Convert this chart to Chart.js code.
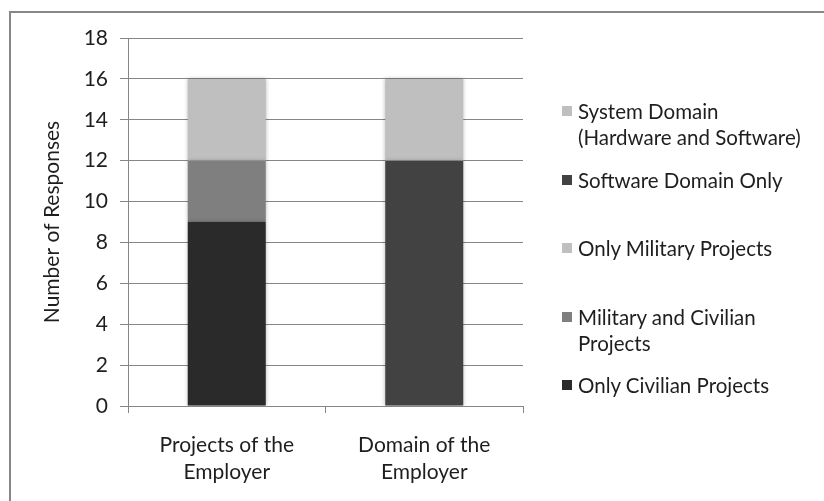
<!DOCTYPE html>
<html>
<head>
<meta charset="utf-8">
<script src="https://cdn.jsdelivr.net/npm/chart.js@4.4.1/dist/chart.umd.min.js"></script>
<style>
  html, body { margin: 0; padding: 0; background: #fff; overflow: hidden; }
  #wrap { position: relative; width: 824px; height: 501px; overflow: hidden; }
  #frame { position: absolute; left: 9px; top: 11px; width: 900px; height: 600px;
           border: 2px solid #878787; box-sizing: border-box; }
  #c { position: absolute; left: 0; top: 0; }
  #legend { position: absolute; left: 562px; top: 98px; font-family: Lato, sans-serif;
            font-size: 20.5px; color: #1e1e1e; }
  .item { height: 68.5px; display: flex; align-items: flex-start; }
  .sw { width: 10px; height: 10px; margin-top: 8px; margin-right: 6px; flex: none; }
  .lbl { line-height: 26px; white-space: nowrap; }
</style>
</head>
<body>
<div id="wrap">
  <div id="frame"></div>
  <canvas id="c" width="824" height="501"></canvas>
  <div id="legend"></div>
</div>
<script>
// Categories and stacked series (number of responses)
const categories = [["Projects of the", "Employer"], ["Domain of the", "Employer"]];
const onlyCivilian = [9, 0];
const militaryAndCivilian = [3, 0];
const onlyMilitary = [4, 0];
const softwareDomainOnly = [0, 12];
const systemDomain = [0, 4];
const yTicks = [0, 2, 4, 6, 8, 10, 12, 14, 16, 18];

const seriesNames = [
  ["Only Civilian Projects"],
  ["Military and Civilian", "Projects"],
  ["Only Military Projects"],
  ["Software Domain Only"],
  ["System Domain", "(Hardware and Software)"]
];
const seriesValues = [onlyCivilian, militaryAndCivilian, onlyMilitary, softwareDomainOnly, systemDomain];
const seriesColors = ["#2a2a2a", "#7f7f7f", "#bfbfbf", "#424242", "#bfbfbf"];

const datasets = seriesValues.map((v, i) => ({
  label: seriesNames[i].join(" "),
  data: v,
  backgroundColor: seriesColors[i],
  borderWidth: 0,
  categoryPercentage: 1,
  barPercentage: 0.395
}));

// soft shadow behind the bars
const barShadow = {
  id: 'barShadow',
  beforeDatasetsDraw(chart) {
    const ctx = chart.ctx;
    ctx.save();
    ctx.shadowColor = 'rgba(0,0,0,0.28)';
    ctx.shadowBlur = 4;
    ctx.shadowOffsetX = 0;
    ctx.shadowOffsetY = 0;
  },
  afterDatasetsDraw(chart) {
    chart.ctx.restore();
  }
};

const font = { family: 'Lato, sans-serif', size: 21 };

new Chart(document.getElementById('c'), {
  type: 'bar',
  data: { labels: categories, datasets },
  plugins: [barShadow],
  options: {
    responsive: false,
    animation: false,
    layout: { padding: { left: 0, right: 301, top: 38, bottom: 0 } },
    plugins: { legend: { display: false }, tooltip: { enabled: false } },
    scales: {
      x: {
        stacked: true,
        grid: { drawOnChartArea: false, drawTicks: true, tickLength: 7, color: '#868686', offset: true },
        border: { color: '#868686' },
        ticks: { color: '#1e1e1e', font: { family: font.family, size: 21, lineHeight: '27px' }, padding: 19,
                 maxRotation: 0 },
        afterFit(s) { s.height = 95; }
      },
      y: {
        stacked: true,
        min: 0, max: 18,
        afterBuildTicks(s) { s.ticks = yTicks.map(v => ({ value: v })); },
        grid: { color: '#868686', tickLength: 8 },
        border: { color: '#868686' },
        ticks: { color: '#1e1e1e', font, padding: 12 },
        title: { display: true, text: 'Number of Responses', color: '#1e1e1e', font,
                 padding: { top: 40, bottom: 0 } },
        afterFit(s) { s.width = 128; }
      }
    }
  }
});

// legend, listed top-down in reverse stacking order
const legend = document.getElementById('legend');
for (let i = seriesNames.length - 1; i >= 0; i--) {
  const item = document.createElement('div');
  item.className = 'item';
  const sw = document.createElement('div');
  sw.className = 'sw';
  sw.style.background = seriesColors[i];
  const lbl = document.createElement('div');
  lbl.className = 'lbl';
  lbl.innerHTML = seriesNames[i].join('<br>');
  item.appendChild(sw);
  item.appendChild(lbl);
  legend.appendChild(item);
}
</script>
</body>
</html>
